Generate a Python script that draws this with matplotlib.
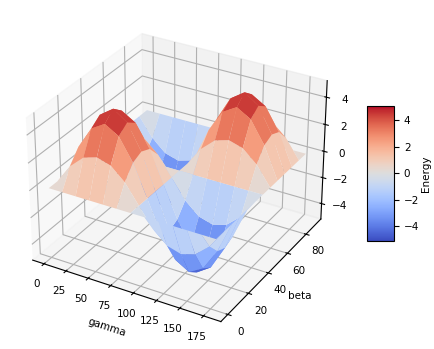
import numpy as np
import matplotlib
matplotlib.use("Agg")
import matplotlib.pyplot as plt

gamma = [0, 15, 30, 45, 60, 75, 90, 105, 120, 135, 150, 165, 180]
beta = [0, 7.5, 15, 22.5, 30, 37.5, 45, 52.5, 60, 67.5, 75, 82.5, 90]

# energy, one row per beta value
e_00 = [0, 0, 0, 0, 0, 0, 0, 0, 0, 0, 0, 0, 0]
e_07 = [0, 1.4, 2.3, 2.6, 2.3, 1.4, 0, -1.4, -2.3, -2.6, -2.3, -1.4, 0]
e_15 = [0, 2.3, 3.9, 4.5, 3.9, 2.3, 0, -2.3, -3.9, -4.5, -3.9, -2.3, 0]
e_22 = [0, 2.6, 4.4, 5.1, 4.4, 2.6, 0, -2.6, -4.4, -5.1, -4.4, -2.6, 0]
e_30 = [0, 2.3, 3.9, 4.5, 3.9, 2.3, 0, -2.3, -3.9, -4.5, -3.9, -2.3, 0]
e_37 = [0, 1.4, 2.3, 2.6, 2.3, 1.4, 0, -1.4, -2.3, -2.6, -2.3, -1.4, 0]
e_45 = [0, 0, 0, 0, 0, 0, 0, 0, 0, 0, 0, 0, 0]
e_52 = [0, -1.4, -2.3, -2.6, -2.3, -1.4, 0, 1.4, 2.3, 2.6, 2.3, 1.4, 0]
e_60 = [0, -2.3, -3.9, -4.5, -3.9, -2.3, 0, 2.3, 3.9, 4.5, 3.9, 2.3, 0]
e_67 = [0, -2.6, -4.4, -5.1, -4.4, -2.6, 0, 2.6, 4.4, 5.1, 4.4, 2.6, 0]
e_75 = [0, -2.3, -3.9, -4.5, -3.9, -2.3, 0, 2.3, 3.9, 4.5, 3.9, 2.3, 0]
e_82 = [0, -1.4, -2.3, -2.6, -2.3, -1.4, 0, 1.4, 2.3, 2.6, 2.3, 1.4, 0]
e_90 = [0, 0, 0, 0, 0, 0, 0, 0, 0, 0, 0, 0, 0]

energy = np.array([e_00, e_07, e_15, e_22, e_30, e_37, e_45,
                   e_52, e_60, e_67, e_75, e_82, e_90])

plt.rcParams["font.size"] = 7.5

fig = plt.figure(figsize=(4.34, 3.49), dpi=100)
ax = fig.add_axes([-0.012, 0.018, 0.83, 0.96], projection="3d")

X, Y = np.meshgrid(gamma, beta)
surf = ax.plot_surface(X, Y, energy, cmap="coolwarm", vmin=-5.1, vmax=5.1, linewidth=0)

ax.set_xlabel("gamma", labelpad=-2)
ax.set_ylabel("beta", labelpad=-3)
ax.set_xticks([0, 25, 50, 75, 100, 125, 150, 175])
ax.set_yticks([0, 20, 40, 60, 80])
ax.set_zticks([-4, -2, 0, 2, 4])
ax.set_zlim(-5.2, 5.2)
ax.tick_params(axis="x", pad=0)
ax.tick_params(axis="y", pad=0)
ax.tick_params(axis="z", pad=0)

cax = fig.add_axes([0.845, 0.31, 0.063, 0.387])
cb = fig.colorbar(surf, cax=cax)
cb.set_label("Energy", labelpad=1)
cb.set_ticks([-4, -2, 0, 2, 4])

fig.savefig("out.png", dpi=100)
